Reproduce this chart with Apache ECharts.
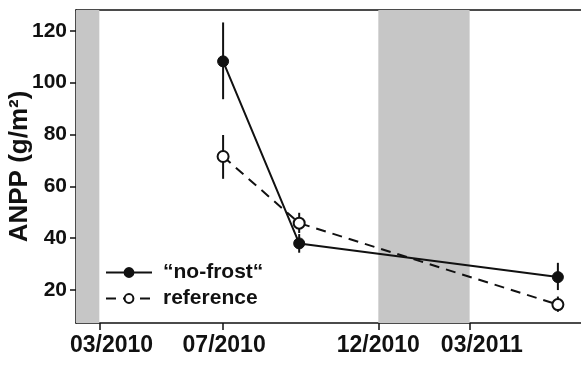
<!DOCTYPE html>
<html lang="en">
<head>
    <meta charset="UTF-8">
    <title>ANPP</title>
    <script type="text/javascript" src="https://cdn.jsdelivr.net/npm/echarts@6/dist/echarts.min.js"></script>
    <style>
        html, body { margin: 0; padding: 0; background: #fff; }
        #main { width: 581px; height: 365px; }
    </style>
</head>
<body>
<div id="main"></div>
<script>
    // sampling dates and values
    let dates = ['2010-07-01', '2010-09-14', '2011-05-27'];
    let noFrost = [108.2, 38, 25];
    let noFrostLo = [93.6, 34.4, 20];
    let noFrostHi = [123.2, 41.6, 30.5];
    let reference = [71.5, 45.8, 14.4];
    let referenceLo = [62.9, 42, 11.6];
    let referenceHi = [79.8, 49.8, 17.5];

    // x axis ticks, label positions and shaded winter periods
    let tickDates = ['2010-03-01', '2010-07-01', '2010-12-01', '2011-03-01'];
    let labelDates = ['2010-03-13', '2010-07-02', '2010-12-01', '2011-03-13'];
    let axisStart = '2010-02-06';
    let axisEnd = '2011-08-12';
    let winters = [['2010-02-06', '2010-03-01'], ['2010-12-01', '2011-03-01']];
    let yTicks = [20, 40, 60, 80, 100, 120];

    // days since 2010-01-01
    function day(s) {
        let p = s.split('-');
        return (Date.UTC(+p[0], +p[1] - 1, +p[2]) - Date.UTC(2010, 0, 1)) / 864e5;
    }
    function label(v) {
        let d = new Date(Date.UTC(2010, 0, 1) + v * 864e5);
        let m = d.getUTCMonth() + 1;
        return (m < 10 ? '0' + m : m) + '/' + d.getUTCFullYear();
    }

    let font = 'Liberation Sans';
    let ink = '#111';

    function pairs(vals) {
        return vals.map((v, i) => [day(dates[i]), v]);
    }
    function errData(lo, hi) {
        return lo.map((v, i) => [day(dates[i]), v, hi[i]]);
    }
    function errBar(params, api) {
        let a = api.coord([api.value(0), api.value(1)]);
        let b = api.coord([api.value(0), api.value(2)]);
        return {
            type: 'line',
            shape: {x1: a[0], y1: a[1], x2: b[0], y2: b[1]},
            style: {stroke: ink, lineWidth: 2}
        };
    }

    var myChart = echarts.init(document.getElementById('main'));
    var option = {
        animation: false,
        grid: {left: 76, top: 10, width: 560, height: 313, outerBoundsMode: 'none', containLabel: false},
        legend: {
            orient: 'vertical',
            left: 100,
            top: 257,
            itemWidth: 46,
            itemHeight: 11,
            itemGap: 5,
            data: ['“no-frost“', 'reference'],
            textStyle: {fontFamily: font, fontWeight: 'bold', fontSize: 21, color: ink, padding: [0, 0, 0, 6]}
        },
        xAxis: [{
            type: 'value',
            min: day(axisStart),
            max: day(axisEnd),
            splitLine: {show: false},
            axisLine: {lineStyle: {color: ink, width: 1.5}},
            axisTick: {customValues: tickDates.map(day), length: 7, lineStyle: {color: ink, width: 1.5}},
            axisLabel: {
                customValues: labelDates.map(day),
                formatter: label,
                margin: 11,
                fontFamily: font, fontWeight: 'bold', fontSize: 23, color: ink
            }
        }, {
            type: 'value',
            position: 'top',
            min: day(axisStart),
            max: day(axisEnd),
            splitLine: {show: false},
            axisLine: {show: true, lineStyle: {color: ink, width: 1.5}},
            axisTick: {show: false},
            axisLabel: {show: false}
        }],
        yAxis: {
            type: 'value',
            min: 7.3,
            max: 128,
            name: 'ANPP (g/m²)',
            nameLocation: 'middle',
            nameGap: 43,
            nameMoveOverlap: false,
            nameTextStyle: {fontFamily: font, fontWeight: 'bold', fontSize: 26, color: ink},
            splitLine: {show: false},
            axisLine: {show: true, lineStyle: {color: ink, width: 1.5}},
            axisTick: {show: true, customValues: yTicks, length: 6, lineStyle: {color: ink, width: 1.5}},
            axisLabel: {customValues: yTicks, margin: 9, fontFamily: font, fontWeight: 'bold', fontSize: 21, color: ink}
        },
        series: [
            {
                // winter shading
                type: 'line',
                data: [],
                silent: true,
                z: 0,
                markArea: {
                    silent: true,
                    itemStyle: {color: '#c6c6c6'},
                    data: winters.map(w => [{xAxis: day(w[0])}, {xAxis: day(w[1])}])
                }
            },
            {
                type: 'custom',
                renderItem: errBar,
                data: errData(noFrostLo, noFrostHi),
                z: 2,
                silent: true
            },
            {
                type: 'custom',
                renderItem: errBar,
                data: errData(referenceLo, referenceHi),
                z: 2,
                silent: true
            },
            {
                name: 'reference',
                type: 'line',
                data: pairs(reference),
                symbol: 'circle',
                symbolSize: 11,
                z: 3,
                lineStyle: {color: ink, width: 2, type: [10, 7]},
                itemStyle: {color: '#fff', borderColor: ink, borderWidth: 2}
            },
            {
                name: '“no-frost“',
                type: 'line',
                data: pairs(noFrost),
                symbol: 'circle',
                symbolSize: 11,
                z: 4,
                lineStyle: {color: ink, width: 2},
                itemStyle: {color: ink, borderColor: ink, borderWidth: 1}
            }
        ]
    };
    myChart.setOption(option);
</script>
</body>
</html>
